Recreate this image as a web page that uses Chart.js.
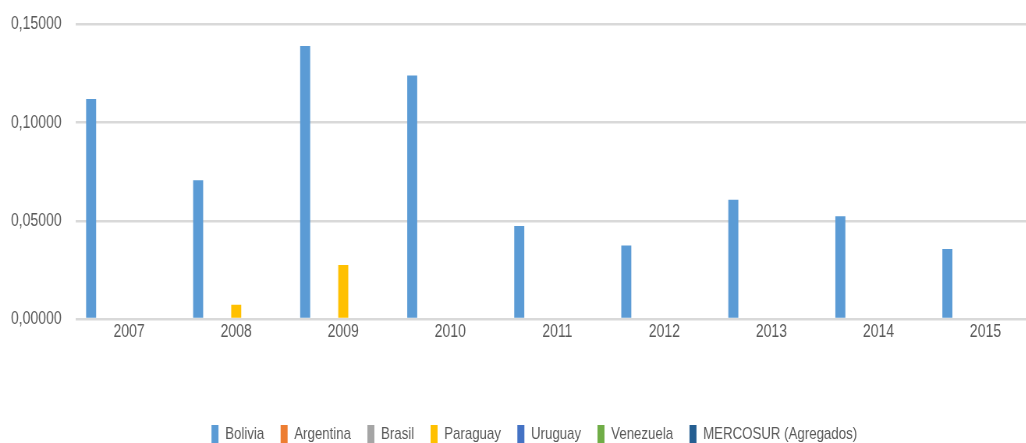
<!DOCTYPE html>
<html>
<head>
<meta charset="utf-8">
<script src="https://cdn.jsdelivr.net/npm/chart.js@4/dist/chart.umd.min.js"></script>
<style>
  html, body { margin: 0; padding: 0; background: #fff; overflow: hidden; }
  /* condensed rendering: the chart is laid out wide and squeezed horizontally */
  #wrap { width: 1364px; height: 453px; transform: scaleX(0.78); transform-origin: 0 0; }
</style>
</head>
<body>
<div id="wrap"><canvas id="c" width="1364" height="453"></canvas></div>
<script>
const years = ['2007', '2008', '2009', '2010', '2011', '2012', '2013', '2014', '2015'];
const bolivia   = [0.1121, 0.0707, 0.1391, 0.1240, 0.0474, 0.0374, 0.0607, 0.0523, 0.0357];
const argentina = [-0.0004, -0.0004, -0.0004, -0.0004, -0.0004, -0.0004, -0.0004, -0.0004, -0.0004];
const brasil    = [-0.0003, -0.0003, -0.0003, -0.0003, -0.0003, -0.0003, -0.0003, -0.0003, -0.0003];
const paraguay  = [0, 0.0073, 0.0275, 0, 0, 0, 0, -0.0003, 0];
const uruguay   = [0, 0, 0, 0, 0, 0, 0, 0, 0];
const venezuela = [0, -0.0003, -0.0003, 0, 0, 0, 0, -0.0003, 0];
const mercosur  = [0, 0, 0, 0, 0, 0, 0, 0, 0];
const yTicks = [0, 0.05, 0.10, 0.15];

const FONT = "'Liberation Sans', Arial, sans-serif";
const TEXT = '#595959';

const series = [
  ['Bolivia', bolivia, '#5B9BD5'],
  ['Argentina', argentina, '#ED7D31'],
  ['Brasil', brasil, '#A5A5A5'],
  ['Paraguay', paraguay, '#FFC000'],
  ['Uruguay', uruguay, '#4472C4'],
  ['Venezuela', venezuela, '#70AD47'],
  ['MERCOSUR (Agregados)', mercosur, '#255E91']
];

// Centre the legend row on the whole canvas rather than left of the right margin
const legendOffset = {
  id: 'legendOffset',
  afterLayout(chart) {
    const lg = chart.legend;
    if (lg) { lg.left += 38; lg.width -= 38; }
  }
};

new Chart(document.getElementById('c'), {
  type: 'bar',
  data: {
    labels: years,
    datasets: series.map(([label, data, color]) => ({
      label, data,
      backgroundColor: color,
      borderWidth: 0,
      categoryPercentage: 0.83,
      barPercentage: 0.79
    }))
  },
  plugins: [legendOffset],
  options: {
    responsive: false,
    animation: false,
    devicePixelRatio: 1,
    layout: { padding: { top: 24.5, right: 32, left: 0, bottom: 0 } },
    plugins: {
      tooltip: { enabled: false },
      legend: {
        position: 'bottom',
        labels: {
          color: TEXT,
          font: { family: FONT, size: 17 },
          boxWidth: 9,
          boxHeight: 18,
          padding: 21
        }
      }
    },
    scales: {
      x: {
        grid: { display: false },
        border: { display: false },
        ticks: { color: TEXT, font: { family: FONT, size: 18 }, padding: -6, maxRotation: 0 },
        afterFit: s => { s.height = 85; }
      },
      y: {
        min: 0,
        max: 0.15,
        afterBuildTicks: s => { s.ticks = yTicks.map(v => ({ value: v })); },
        grid: { color: '#d9d9d9', lineWidth: 2.5, drawTicks: false },
        border: { display: false },
        ticks: {
          color: TEXT,
          font: { family: FONT, size: 18 },
          padding: 18,
          callback: v => Number(v).toFixed(5).replace('.', ',')
        },
        afterFit: s => { s.width = 97; s.paddingTop = 0; s.paddingBottom = 0; }
      }
    }
  }
});
</script>
</body>
</html>
